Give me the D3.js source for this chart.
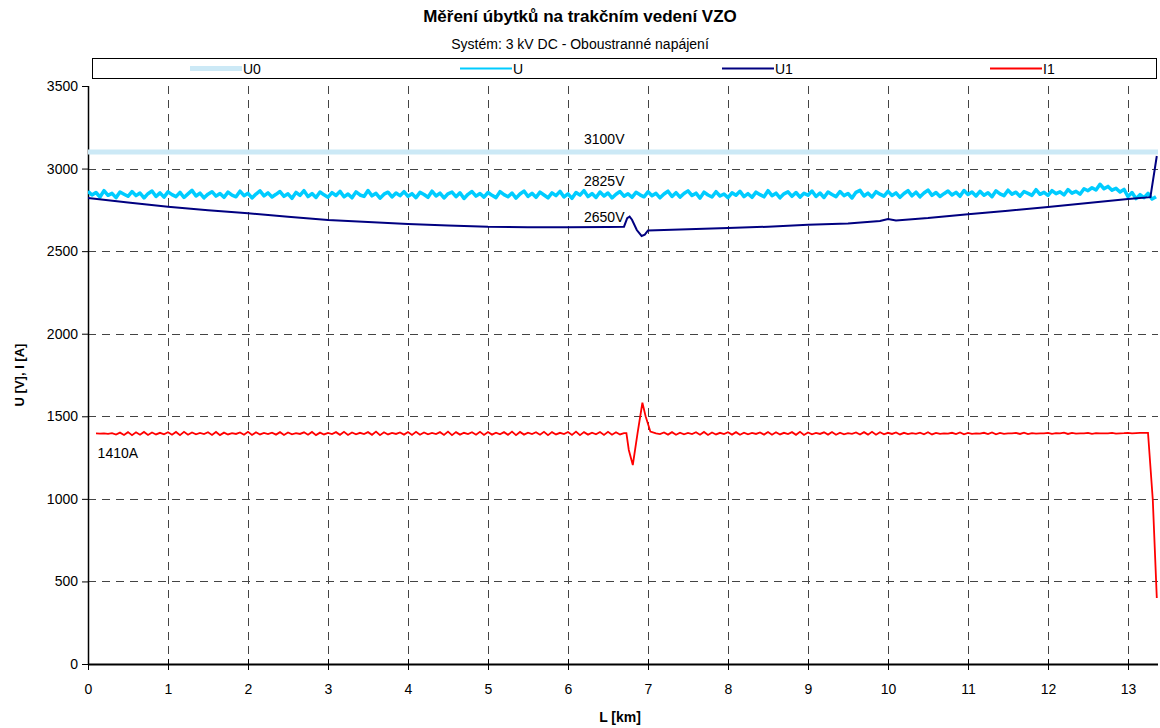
<!DOCTYPE html>
<html>
<head>
<meta charset="utf-8">
<script src="https://cdn.jsdelivr.net/npm/d3@7"></script>
<style>
  body { margin: 0; background: #fff; }
  text { font-family: "Liberation Sans", Arial, sans-serif; }
</style>
</head>
<body>
<div id="canvas" style="width:1160px;height:728px"></div>
<script>
var canvasWidth = 1160,
    canvasHeight = 728;

var margin = {t:86, r:2, b:64, l:88};
var plotWidth = canvasWidth - margin.l - margin.r,
    plotHeight = canvasHeight - margin.t - margin.b;

// data
var xTicks = [0,1,2,3,4,5,6,7,8,9,10,11,12,13];
var yTicks = [0,500,1000,1500,2000,2500,3000,3500];
var seriesNames = ['U0','U','U1','I1'];
var seriesColors = ['#cce9f6','#00ccff','#000080','#ff0000'];

var u0Value = 3100;

// U sampled every 0.05 km from 0 (one row = 1 km)
var uStep = 0.05;
var uValues = [
  2862,2840,2855,2828,2866,2838,2850,2824,2858,2845,2832,2861,2836,2852,2822,2848,2864,2831,2853,2827,
  2859,2842,2830,2856,2825,2847,2868,2834,2851,2823,2845,2860,2833,2849,2826,2857,2839,2829,2863,2836,
  2850,2822,2846,2865,2835,2853,2828,2844,2861,2832,2847,2820,2856,2838,2866,2830,2849,2825,2858,2841,
  2827,2854,2837,2862,2829,2846,2823,2859,2840,2831,2867,2835,2850,2821,2845,2857,2828,2852,2836,2860,
  2832,2848,2824,2856,2843,2826,2863,2834,2851,2822,2847,2858,2830,2853,2819,2844,2861,2833,2849,2827,
  2855,2838,2824,2860,2842,2829,2852,2821,2846,2864,2831,2850,2826,2857,2840,2823,2853,2836,2862,2828,
  2847,2820,2855,2839,2866,2830,2849,2825,2858,2834,2852,2822,2845,2861,2833,2848,2826,2856,2841,2829,
  2859,2835,2850,2823,2846,2863,2831,2854,2827,2849,2865,2837,2851,2821,2857,2840,2828,2860,2834,2846,
  2824,2853,2838,2862,2830,2848,2826,2857,2842,2829,2866,2836,2851,2823,2847,2859,2832,2855,2827,2850,
  2839,2864,2831,2852,2825,2858,2843,2830,2861,2836,2849,2822,2856,2868,2834,2851,2828,2860,2845,2833,
  2862,2837,2853,2826,2849,2866,2835,2857,2829,2852,2870,2838,2855,2831,2848,2864,2840,2856,2832,2867,
  2843,2858,2834,2862,2839,2854,2830,2865,2847,2836,2869,2845,2857,2833,2861,2850,2838,2872,2844,2856,
  2837,2866,2848,2859,2840,2873,2851,2862,2845,2878,2866,2884,2870,2905,2878,2892,2869,2880,2858,2874,
  2830,2855,2818,2842,2824,2850,2815,2830
];

// U1 [km, V]
var u1Points = [
  [0,2822],[0.5,2795],[1,2769],[1.5,2748],[2,2730],[2.5,2708],[3,2689],[3.5,2676],
  [4,2664],[4.5,2655],[5,2647],[5.5,2645],[6,2645],[6.5,2646],[6.7,2648],[6.74,2700],
  [6.77,2709],[6.8,2690],[6.86,2628],[6.92,2592],[6.96,2600],[7.0,2625],[7.2,2628],
  [7.5,2632],[8,2640],[8.5,2648],[9,2660],[9.5,2668],[9.9,2682],[10,2695],[10.1,2686],
  [10.5,2700],[11,2723],[11.5,2745],[12,2767],[12.5,2792],[13,2816],[13.28,2827],[13.36,3076]
];

// I1 sampled every 0.05 km: part A from 0.10 km, part B from 7.10 km
var iStep = 0.05;
var i1StartA = 0.1;
var i1ValuesA = [
  1396,1395,1396,1394,1398,1389,1401,1387,1404,1386,1403,1388,1405,1387,1402,1390,1400,1391,1403,1388,
  1405,1386,1406,1388,1402,1391,1399,1392,1403,1387,1405,1386,1401,1390,1398,1393,1402,1388,1406,1387,
  1403,1390,1399,1392,1401,1389,1404,1387,1402,1391,1398,1393,1403,1388,1405,1386,1401,1390,1399,1392,
  1404,1388,1406,1387,1402,1391,1400,1392,1404,1388,1407,1386,1403,1390,1399,1393,1402,1389,1405,1387,
  1406,1388,1402,1391,1399,1392,1404,1387,1407,1386,1404,1389,1400,1392,1403,1388,1406,1387,1405,1389,
  1401,1391,1404,1388,1407,1386,1405,1389,1401,1392,1403,1388,1406,1386,1404,1390,1400,1392,1405,1387,
  1407,1386,1404,1389,1401,1391,1405,1387,1406,1388,1403,1390,1398
];
var i1Dip = [[6.73,1398],[6.76,1296],[6.81,1205],[6.87,1400],[6.93,1582],[6.97,1500],[7.03,1407]];
var i1StartB = 7.1;
var i1ValuesB = [
  1396,1392,1402,1389,1404,1388,1401,1391,1399,1392,1403,1388,1405,1387,1402,1390,1400,1392,1403,1389,
  1404,1388,1401,1391,1399,1393,1402,1389,1405,1388,1403,1390,1400,1392,1404,1388,1406,1387,1402,1391,
  1399,1393,1403,1389,1405,1388,1401,1391,1398,1394,1402,1390,1404,1389,1406,1388,1403,1391,1400,1393,
  1402,1390,1400,1392,1398,1394,1401,1391,1403,1390,1399,1393,1397,1395,1400,1392,1402,1391,1399,1394,
  1397,1395,1400,1392,1402,1391,1399,1394,1396,1396,1399,1393,1401,1392,1398,1395,1397,1396,1400,1394,
  1398,1396,1401,1393,1399,1395,1397,1397,1400,1394,1398,1396,1396,1397,1399,1395,1397,1398,1400,1396,
  1398,1399,1400
];
var i1End = [[13.25,1400],[13.31,993],[13.36,400]];

var notes = [
  {text:'3100V', km:6.2, v:3100, dy:-8},
  {text:'2825V', km:6.2, v:2825, dy:-11},
  {text:'2650V', km:6.2, v:2650, dy:-4},
  {text:'1410A', km:0.12, v:1410, dy:27}
];

var svg = d3.select('#canvas')
	.append('svg')
	.attr('width', canvasWidth)
	.attr('height', canvasHeight);

var x = d3.scaleLinear().domain([0, 13.375]).range([0, plotWidth]);
var y = d3.scaleLinear().domain([0, 3500]).range([plotHeight, 0]);

// titles
svg.append('text')
	.attr('x', 580).attr('y', 22)
	.attr('text-anchor', 'middle')
	.style('font-size', '17px').style('font-weight', 'bold')
	.text('Měření úbytků na trakčním vedení VZO');
svg.append('text')
	.attr('x', 580).attr('y', 49)
	.attr('text-anchor', 'middle')
	.style('font-size', '14px')
	.text('Systém: 3 kV DC - Oboustranné napájení');

// legend
var legend = svg.append('g');
legend.append('rect')
	.attr('x', 92.5).attr('y', 58.5).attr('width', 1064).attr('height', 20)
	.style('fill', '#fff').style('stroke', '#000').style('stroke-width', 1);
var legendX = [190, 460, 722, 990];
seriesNames.forEach(function(name, i){
	legend.append('line')
		.attr('x1', legendX[i]).attr('x2', legendX[i] + 52)
		.attr('y1', 68.5).attr('y2', 68.5)
		.style('stroke', seriesColors[i])
		.style('stroke-width', i == 0 ? 5 : 2);
	legend.append('text')
		.attr('x', legendX[i] + 53).attr('y', 74)
		.style('font-size', '14px')
		.text(name);
});

var plot = svg.append('g')
	.attr('transform', 'translate('+margin.l+','+margin.t+')');

plot.append('clipPath').attr('id', 'clip')
	.append('rect').attr('width', plotWidth).attr('height', plotHeight);

// grid
plot.selectAll('.hgrid')
	.data(yTicks.filter(function(d){ return d > 0 && d < 3500; }))
	.enter().append('line')
	.attr('x1', 0).attr('x2', plotWidth)
	.attr('y1', function(d){ return Math.round(y(d)) + 0.5; })
	.attr('y2', function(d){ return Math.round(y(d)) + 0.5; })
	.style('stroke', '#444').style('stroke-dasharray', '8,6');
plot.selectAll('.vgrid')
	.data(xTicks.filter(function(d){ return d > 0; }))
	.enter().append('line')
	.attr('y1', 0).attr('y2', plotHeight)
	.attr('x1', function(d){ return Math.round(x(d)) + 0.5; })
	.attr('x2', function(d){ return Math.round(x(d)) + 0.5; })
	.style('stroke', '#444').style('stroke-dasharray', '8,6');

// axes
var yAxis = plot.append('g')
	.call(d3.axisLeft(y).tickValues(yTicks).tickFormat(d3.format('d')).tickSize(6).tickPadding(4));
var xAxis = plot.append('g')
	.attr('transform', 'translate(0,'+plotHeight+')')
	.call(d3.axisBottom(x).tickValues(xTicks).tickFormat(d3.format('d')).tickSize(6).tickPadding(14));
xAxis.selectAll('.tick line').attr('y1', -5);
yAxis.select('.domain').attr('d', 'M0.5,0V'+plotHeight).style('stroke-width', 1.5);
xAxis.select('.domain').attr('d', 'M0,0.5H'+plotWidth).style('stroke-width', 2);
[xAxis, yAxis].forEach(function(a){
	a.selectAll('text').style('font-size', '14px').style('fill', '#000')
		.style('font-family', '"Liberation Sans", Arial, sans-serif');
});

svg.append('text')
	.attr('transform', 'translate(24,375) rotate(-90)')
	.attr('text-anchor', 'middle')
	.style('font-size', '13px').style('font-weight', 'bold')
	.text('U [V], I [A]');
svg.append('text')
	.attr('x', 620).attr('y', 722)
	.attr('text-anchor', 'middle')
	.style('font-size', '14px').style('font-weight', 'bold')
	.text('L [km]');

// series
var line = d3.line()
	.x(function(d){ return x(d[0]); })
	.y(function(d){ return y(d[1]); });

var lines = plot.append('g').attr('clip-path', 'url(#clip)');

lines.append('path')
	.datum([[0, u0Value], [13.375, u0Value]])
	.attr('d', line)
	.style('fill', 'none').style('stroke', seriesColors[0]).style('stroke-width', 5);

var uPoints = uValues.map(function(v, i){ return [i * uStep, v]; });
lines.append('path')
	.datum(uPoints)
	.attr('d', line)
	.style('fill', 'none').style('stroke', seriesColors[1]).style('stroke-width', 3.5)
	.style('stroke-linejoin', 'round');

lines.append('path')
	.datum(u1Points)
	.attr('d', line)
	.style('fill', 'none').style('stroke', seriesColors[2]).style('stroke-width', 2);

var i1Points = i1ValuesA.map(function(v, i){ return [i1StartA + i * iStep, v]; })
	.concat(i1Dip)
	.concat(i1ValuesB.map(function(v, i){ return [i1StartB + i * iStep, v]; }))
	.concat(i1End);
lines.append('path')
	.datum(i1Points)
	.attr('d', line)
	.style('fill', 'none').style('stroke', seriesColors[3]).style('stroke-width', 1.8);

// value notes
plot.selectAll('.note')
	.data(notes)
	.enter().append('text')
	.attr('x', function(d){ return x(d.km); })
	.attr('y', function(d){ return y(d.v) + d.dy; })
	.style('font-size', '14px')
	.text(function(d){ return d.text; });
</script>
</body>
</html>
